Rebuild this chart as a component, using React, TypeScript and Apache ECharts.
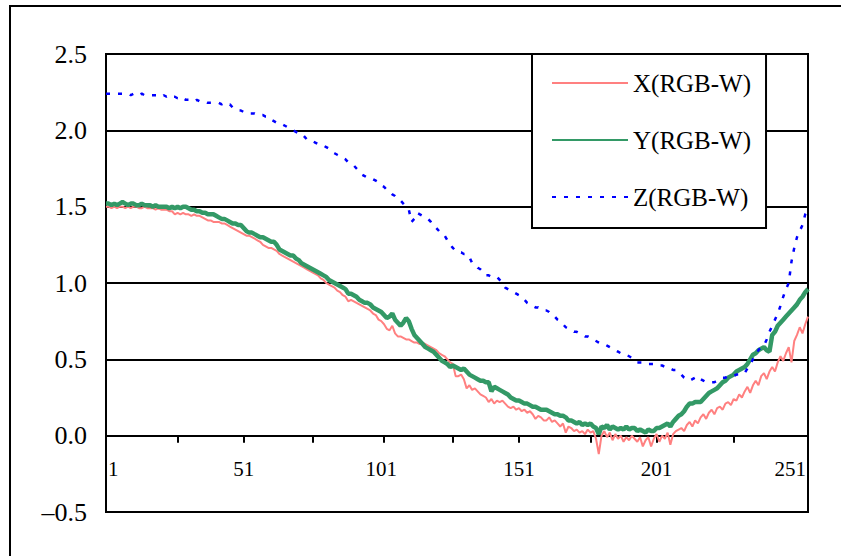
import React, { useEffect, useRef } from "react";
import * as echarts from "echarts";

const categories: string[] = Array.from({ length: 256 }, (_, i) => String(i + 1));

const seriesNames = ["X(RGB-W)", "Y(RGB-W)", "Z(RGB-W)"];

// categories at which the reference draws tick marks on the x axis
const tickCategories: number[] = [27, 51, 76, 102, 127, 151, 177, 201, 229];

const xValues: number[] = [
  1.50,1.50,1.49,1.50,1.49,1.50,1.50,1.49,1.50,1.49,1.50,1.50,1.49,1.49,1.50,1.49,
  1.49,1.49,1.48,1.49,1.48,1.48,1.48,1.47,1.47,1.45,1.46,1.45,1.46,1.45,1.45,1.44,
  1.45,1.44,1.44,1.43,1.42,1.41,1.41,1.40,1.40,1.40,1.39,1.39,1.38,1.37,1.36,1.35,
  1.34,1.33,1.32,1.31,1.31,1.30,1.29,1.28,1.27,1.25,1.24,1.23,1.23,1.22,1.21,1.19,
  1.18,1.17,1.16,1.15,1.14,1.13,1.12,1.11,1.10,1.09,1.08,1.07,1.06,1.05,1.03,1.02,
  1.00,0.99,0.98,0.97,0.95,0.94,0.92,0.91,0.88,0.89,0.88,0.87,0.86,0.85,0.84,0.83,
  0.82,0.80,0.79,0.76,0.75,0.73,0.70,0.69,0.72,0.67,0.65,0.65,0.64,0.63,0.63,0.62,
  0.61,0.61,0.60,0.61,0.60,0.59,0.58,0.57,0.56,0.54,0.53,0.52,0.50,0.48,0.47,0.39,
  0.39,0.40,0.37,0.31,0.33,0.30,0.31,0.29,0.27,0.26,0.25,0.22,0.24,0.21,0.23,0.22,
  0.23,0.21,0.19,0.18,0.19,0.17,0.18,0.16,0.17,0.15,0.16,0.14,0.11,0.13,0.12,0.10,
  0.10,0.12,0.09,0.10,0.08,0.06,0.08,0.02,0.06,0.05,0.03,0.04,0.02,0.03,0.01,0.04,
  0.02,0.03,-0.02,-0.12,0.00,0.03,-0.01,0.02,-0.03,0.01,-0.02,0.00,-0.04,-0.01,-0.03,0.00,
  -0.02,-0.04,-0.01,-0.07,-0.03,-0.01,-0.07,-0.02,0.01,-0.04,0.00,-0.02,0.02,-0.06,0.01,0.03,
  0.04,0.05,0.03,0.07,0.09,0.06,0.10,0.08,0.12,0.14,0.11,0.15,0.17,0.14,0.18,0.19,
  0.17,0.21,0.22,0.20,0.24,0.23,0.27,0.25,0.29,0.32,0.28,0.33,0.36,0.33,0.39,0.41,
  0.37,0.42,0.45,0.42,0.48,0.52,0.49,0.54,0.58,0.48,0.62,0.66,0.71,0.67,0.73,0.78,
];

const yValues: number[] = [
  1.52,1.52,1.51,1.52,1.51,1.52,1.53,1.52,1.51,1.52,1.52,1.51,1.51,1.52,1.51,1.51,
  1.51,1.50,1.51,1.50,1.50,1.50,1.50,1.49,1.50,1.49,1.50,1.49,1.50,1.50,1.49,1.48,
  1.48,1.47,1.47,1.46,1.46,1.45,1.45,1.45,1.44,1.43,1.42,1.42,1.41,1.40,1.39,1.39,
  1.38,1.38,1.36,1.34,1.33,1.33,1.32,1.31,1.30,1.30,1.29,1.28,1.27,1.27,1.25,1.22,
  1.21,1.20,1.19,1.18,1.18,1.16,1.15,1.13,1.12,1.11,1.10,1.09,1.08,1.07,1.06,1.05,
  1.04,1.02,1.01,1.00,0.99,0.98,0.97,0.96,0.93,0.93,0.92,0.91,0.89,0.88,0.87,0.87,
  0.86,0.84,0.83,0.82,0.81,0.79,0.77,0.78,0.80,0.76,0.74,0.72,0.74,0.77,0.75,0.70,
  0.66,0.64,0.62,0.60,0.58,0.57,0.56,0.55,0.53,0.51,0.49,0.48,0.47,0.45,0.46,0.45,
  0.44,0.43,0.44,0.42,0.40,0.39,0.38,0.37,0.36,0.36,0.35,0.35,0.29,0.32,0.31,0.30,
  0.29,0.28,0.27,0.25,0.24,0.23,0.23,0.22,0.21,0.21,0.20,0.19,0.19,0.18,0.17,0.17,
  0.17,0.16,0.15,0.14,0.14,0.13,0.13,0.12,0.10,0.10,0.09,0.08,0.09,0.07,0.08,0.07,
  0.08,0.06,0.05,0.01,0.06,0.05,0.07,0.04,0.06,0.05,0.04,0.05,0.04,0.06,0.04,0.05,
  0.05,0.03,0.04,0.03,0.02,0.04,0.03,0.03,0.05,0.05,0.06,0.07,0.08,0.06,0.09,0.11,
  0.13,0.14,0.16,0.19,0.21,0.21,0.22,0.22,0.22,0.24,0.26,0.28,0.29,0.30,0.31,0.33,
  0.35,0.36,0.38,0.39,0.40,0.42,0.43,0.44,0.45,0.47,0.50,0.53,0.54,0.56,0.57,0.58,
  0.56,0.55,0.66,0.68,0.72,0.74,0.76,0.78,0.80,0.82,0.84,0.86,0.89,0.91,0.94,0.96,
];

const zValues: number[] = [
  2.24,2.24,2.24,2.24,2.24,2.24,2.24,2.24,2.24,2.23,2.24,2.23,2.23,2.24,2.23,2.23,
  2.23,2.23,2.23,2.23,2.22,2.23,2.22,2.23,2.22,2.22,2.21,2.22,2.21,2.20,2.20,2.20,
  2.19,2.20,2.19,2.19,2.19,2.18,2.18,2.18,2.18,2.18,2.17,2.18,2.17,2.17,2.15,2.14,
  2.13,2.13,2.12,2.12,2.11,2.11,2.11,2.10,2.10,2.10,2.09,2.09,2.07,2.06,2.05,2.05,
  2.04,2.03,2.02,2.01,2.00,1.99,1.98,1.98,1.96,1.94,1.94,1.93,1.92,1.91,1.91,1.90,
  1.89,1.88,1.86,1.85,1.84,1.83,1.82,1.81,1.79,1.78,1.77,1.75,1.73,1.71,1.70,1.69,
  1.68,1.68,1.67,1.66,1.64,1.63,1.61,1.60,1.58,1.57,1.55,1.54,1.52,1.50,1.48,1.40,
  1.42,1.46,1.45,1.44,1.43,1.42,1.40,1.37,1.36,1.34,1.32,1.31,1.28,1.25,1.23,1.21,
  1.20,1.20,1.19,1.19,1.17,1.13,1.12,1.10,1.09,1.07,1.05,1.05,1.04,1.04,1.04,1.02,
  1.00,0.97,0.96,0.95,0.94,0.93,0.92,0.91,0.89,0.87,0.86,0.85,0.84,0.84,0.83,0.82,
  0.82,0.81,0.79,0.78,0.76,0.75,0.73,0.71,0.70,0.69,0.68,0.68,0.67,0.66,0.65,0.65,
  0.64,0.63,0.62,0.61,0.60,0.60,0.59,0.58,0.57,0.56,0.55,0.54,0.53,0.53,0.52,0.51,
  0.49,0.48,0.48,0.48,0.47,0.47,0.47,0.47,0.47,0.46,0.46,0.45,0.45,0.44,0.43,0.43,
  0.42,0.40,0.38,0.37,0.36,0.37,0.38,0.39,0.37,0.36,0.35,0.35,0.35,0.35,0.36,0.37,
  0.38,0.38,0.39,0.39,0.39,0.40,0.40,0.40,0.41,0.44,0.47,0.50,0.53,0.56,0.58,0.59,
  0.63,0.68,0.72,0.76,0.80,0.85,0.91,0.96,1.00,1.14,1.23,1.30,1.34,1.38,1.45,1.48,
];

const Y_MIN = -0.5;
const Y_MAX = 2.5;

const FONT = "'Liberation Serif', 'Times New Roman', serif";

const GRID_TOP = 54;
const GRID_BOTTOM = 44;
const CHART_H = 556;

export default function App() {
  const ref = useRef<HTMLDivElement>(null);

  useEffect(() => {
    if (!ref.current) return;
    const chart = echarts.init(ref.current, undefined, { renderer: "svg" });
    const plotH = CHART_H - GRID_TOP - GRID_BOTTOM;
    // lift the x axis from the grid bottom to the value 0
    const zeroOffset = -((0 - Y_MIN) / (Y_MAX - Y_MIN)) * plotH;
    chart.setOption({
      animation: false,
      backgroundColor: "#ffffff",
      textStyle: { fontFamily: FONT },
      graphic: [
        {
          type: "rect",
          shape: { x: 10, y: 6, width: 900, height: 700 },
          style: { fill: "none", stroke: "#000", lineWidth: 2 },
          silent: true,
          z: 100,
        },
      ],
      grid: {
        left: 106,
        right: 33,
        top: GRID_TOP,
        bottom: GRID_BOTTOM,
        show: true,
        borderColor: "#000",
        borderWidth: 2,
        backgroundColor: "transparent",
      },
      legend: {
        orient: "vertical",
        left: 532,
        top: 54,
        padding: [16, 15, 18, 19],
        itemGap: 31,
        itemWidth: 76,
        itemHeight: 26,
        backgroundColor: "#fff",
        borderColor: "#000",
        borderWidth: 2,
        borderRadius: 0,
        data: seriesNames,
        itemStyle: { opacity: 0 },
        textStyle: {
          fontFamily: FONT,
          fontSize: 25,
          color: "#000",
          lineHeight: 26,
        },
      },
      xAxis: {
        type: "category",
        data: categories,
        boundaryGap: false,
        offset: zeroOffset,
        axisLine: { show: true, onZero: false, lineStyle: { color: "#000", width: 2 } },
        axisTick: {
          show: true,
          interval: (index: number) => tickCategories.indexOf(index + 1) >= 0,
          length: 7,
          lineStyle: { color: "#000", width: 2 },
        },
        axisLabel: {
          interval: 49,
          margin: 23,
          fontFamily: FONT,
          fontSize: 21,
          color: "#000",
          alignMinLabel: "left",
          formatter: (v: string) => (v === "251" ? "{r|" + v + "}" : v === "1" ? "{l|" + v + "}" : v),
          rich: {
            r: { fontFamily: FONT, fontSize: 21, color: "#000", padding: [0, 8, 0, 0] },
            l: { fontFamily: FONT, fontSize: 21, color: "#000", padding: [0, 0, 0, 2] },
          },
        },
        splitLine: { show: false },
      },
      yAxis: {
        type: "value",
        min: Y_MIN,
        max: Y_MAX,
        interval: 0.5,
        axisLine: { show: true, lineStyle: { color: "#000", width: 2 } },
        axisTick: { show: false },
        axisLabel: {
          margin: 19,
          fontFamily: FONT,
          fontSize: 26,
          color: "#000",
          formatter: (v: number) => v.toFixed(1).replace("-", "\u2013"),
        },
        splitLine: { show: true, lineStyle: { color: "#000", width: 2 } },
      },
      series: [
        {
          name: seriesNames[0],
          type: "line",
          data: xValues,
          showSymbol: false,
          symbol: "none",
          lineStyle: { color: "#FF8080", width: 2 },
          itemStyle: { color: "#FF8080" },
          z: 2,
        },
        {
          name: seriesNames[1],
          type: "line",
          data: yValues,
          showSymbol: false,
          symbol: "none",
          lineStyle: { color: "#339966", width: 4.5 },
          itemStyle: { color: "#339966" },
          z: 3,
        },
        {
          name: seriesNames[2],
          type: "line",
          data: zValues,
          showSymbol: false,
          symbol: "none",
          lineStyle: { color: "#0000FF", width: 2.5, type: [4, 8] },
          itemStyle: { color: "#0000FF" },
          z: 4,
        },
      ],
    });
    return () => chart.dispose();
  }, []);

  return (
    <div
      ref={ref}
      style={{ position: "fixed", left: 0, top: 0, width: 841, height: 556, background: "#fff" }}
    />
  );
}
